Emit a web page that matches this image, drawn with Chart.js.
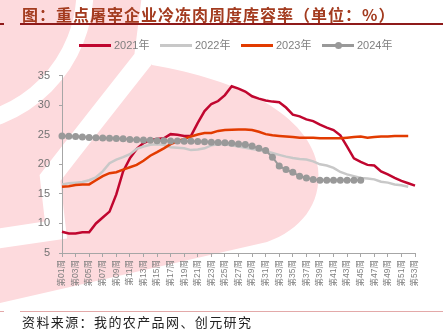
<!DOCTYPE html>
<html>
<head>
<meta charset="utf-8">
<script src="https://cdn.jsdelivr.net/npm/chart.js@4.4.1/dist/chart.umd.min.js"></script>
<style>
  body { margin: 0; width: 443px; height: 333px; position: relative; overflow: hidden; background: #fff; font-family: "Noto Sans CJK SC", sans-serif; }
  #bg { position: absolute; left: 0; top: 0; }
  #title { position: absolute; left: 22px; top: 4px; font-size: 16px; font-weight: bold; color: #A33B1F; letter-spacing: 1px; white-space: nowrap; line-height: 20px; }
  .rule { position: absolute; height: 2px; }
  #legend { position: absolute; left: 0; top: 38px; width: 443px; height: 14px; font-family: "Liberation Sans", "Noto Sans CJK SC", sans-serif; font-size: 11px; color: #808080; }
  .item { position: absolute; top: 0; line-height: 14px; white-space: nowrap; }
  .swatch { position: absolute; top: 6px; width: 32px; height: 3px; }
  .dot { position: absolute; top: 4px; width: 7px; height: 7px; border-radius: 50%; background: #999; }
  #wrap { position: absolute; left: 0; top: 60px; width: 443px; height: 245px; }
  #foot { position: absolute; left: 22px; top: 313px; font-size: 13px; letter-spacing: 1.4px; color: #222; white-space: nowrap; line-height: 18px; }
</style>
</head>
<body>
<canvas id="bg" width="443" height="333"></canvas>
<div id="title">图：重点屠宰企业冷冻肉周度库容率（单位：%）</div>
<div class="rule" style="left:0;top:23px;width:4px;background:#8E1A1A"></div>
<div class="rule" style="left:20px;top:23px;width:423px;background:#8E1A1A"></div>
<div id="legend"></div>
<div id="wrap"><canvas id="myChart"></canvas></div>
<div class="rule" style="left:0;top:311px;width:4px;height:1px;background:#E3A9A9"></div>
<div class="rule" style="left:20px;top:311px;width:423px;height:1px;background:#E3A9A9"></div>
<div id="foot">资料来源：我的农产品网、创元研究</div>

<script>
const weeks = [];
for (let i = 1; i <= 53; i++) {
  weeks.push("第" + String(i).padStart(2, "0") + "周");
}

const years = ["2021年", "2022年", "2023年", "2024年"];

const y2021 = [8.6, 8.3, 8.3, 8.5, 8.5, 10.0, 11.0, 12.0, 14.9, 18.8,
  21.0, 22.6, 23.6, 24.1, 24.3, 24.4, 25.1, 25.0, 24.8, 24.8,
  27.0, 29.0, 30.2, 30.7, 31.7, 33.2, 32.8, 32.3, 31.5, 31.1,
  30.8, 30.6, 30.5, 29.6, 28.4, 28.1, 27.6, 27.3, 26.7, 26.2,
  25.8, 24.9, 23.0, 21.0, 20.4, 19.9, 19.8, 18.8, 18.3, 17.7,
  17.2, 16.8, 16.4];

const y2022 = [16.6, 16.8, 16.9, 17.0, 17.3, 17.8, 18.8, 20.2, 20.8, 21.2,
  21.7, 22.6, 23.0, 23.3, 23.4, 23.3, 22.9, 22.8, 22.7, 22.4,
  22.5, 22.7, 23.2, 23.4, 23.4, 23.2, 23.0, 22.8, 22.6, 22.4,
  22.2, 21.9, 21.6, 21.3, 21.05, 20.9, 20.8, 20.5, 20.0, 19.8,
  19.4, 18.7, 18.3, 18.0, 17.7, 17.6, 17.45, 17.05, 16.9, 16.6,
  16.45, 16.2];

const y2023 = [16.2, 16.3, 16.5, 16.6, 16.6, 17.3, 18.0, 18.5, 18.65, 19.1,
  19.5, 19.9, 20.6, 21.45, 22.05, 22.7, 23.4, 23.9, 24.3, 24.7,
  25.05, 25.3, 25.3, 25.65, 25.8, 25.85, 25.9, 25.9, 25.8, 25.5,
  25.1, 24.9, 24.8, 24.7, 24.6, 24.5, 24.5, 24.5, 24.4, 24.4,
  24.4, 24.4, 24.5, 24.6, 24.7, 24.5, 24.6, 24.7, 24.7, 24.8,
  24.8, 24.8];

const y2024 = [24.8, 24.75, 24.7, 24.6, 24.55, 24.5, 24.45, 24.4, 24.35, 24.3,
  24.2, 24.15, 24.1, 24.05, 24.0, 24.0, 23.95, 23.95, 23.9, 23.9,
  23.85, 23.8, 23.75, 23.7, 23.65, 23.55, 23.45, 23.35, 23.1, 22.7,
  22.35, 21.2, 19.7, 19.1, 18.65, 18.0, 17.7, 17.45, 17.3, 17.3,
  17.3, 17.3, 17.3, 17.3, 17.3];

const colors = ["#C0062F", "#C8C8C8", "#E23B00", "#999999"];

// watermark behind everything
const bg = document.getElementById("bg").getContext("2d");
bg.fillStyle = "#FDDADD";
bg.beginPath();
bg.moveTo(0, 0);
bg.lineTo(150, 0);
bg.lineTo(152, 65);
bg.bezierCurveTo(240, 80, 310, 115, 318, 168);
bg.bezierCurveTo(322, 205, 300, 230, 267, 242);
bg.lineTo(0, 303);
bg.closePath();
bg.fill();

bg.strokeStyle = "#fff";
bg.lineWidth = 17;
bg.beginPath();
bg.arc(-50, -10, 135, 0, Math.PI / 2);
bg.stroke();

bg.lineWidth = 20;
bg.lineJoin = "miter";
bg.beginPath();
bg.moveTo(152, -5);
bg.lineTo(144, 58);
bg.quadraticCurveTo(95, 120, 50, 178);
bg.lineTo(56, 230);
bg.lineTo(-5, 239);
bg.stroke();

// legend
const legendPos = [79, 160, 241, 322];
const legend = document.getElementById("legend");
years.forEach((y, i) => {
  const sw = document.createElement("div");
  sw.className = "swatch";
  sw.style.left = legendPos[i] + "px";
  sw.style.background = colors[i];
  legend.appendChild(sw);
  if (i === 3) {
    const d = document.createElement("div");
    d.className = "dot";
    d.style.left = (legendPos[i] + 12.5) + "px";
    legend.appendChild(d);
  }
  const t = document.createElement("div");
  t.className = "item";
  t.style.left = (legendPos[i] + 35) + "px";
  t.textContent = y;
  legend.appendChild(t);
});

const ctx = document.getElementById("myChart");

new Chart(ctx, {
  type: "line",
  data: {
    labels: weeks,
    datasets: [
      { label: years[0], data: y2021, borderColor: colors[0], borderWidth: 2.5, pointRadius: 0, order: 3 },
      { label: years[1], data: y2022, borderColor: colors[1], borderWidth: 2.5, pointRadius: 0, order: 2 },
      { label: years[2], data: y2023, borderColor: colors[2], borderWidth: 2.5, pointRadius: 0, order: 1 },
      { label: years[3], data: y2024, borderColor: colors[3], borderWidth: 2, pointRadius: 3.5,
        pointBackgroundColor: colors[3], pointBorderWidth: 0, order: 0 }
    ]
  },
  options: {
    responsive: true,
    maintainAspectRatio: false,
    animation: false,
    devicePixelRatio: 1,
    layout: { padding: { left: 0, right: 28, top: 13, bottom: 0 } },
    elements: { line: { tension: 0 } },
    plugins: {
      legend: { display: false },
      tooltip: { enabled: false }
    },
    scales: {
      x: {
        offset: false,
        grid: { display: true, drawOnChartArea: false, drawTicks: true, tickLength: 4, color: "#A6A6A6" },
        border: { display: true, color: "#A6A6A6", width: 1 },
        ticks: {
          autoSkip: false,
          maxRotation: 90,
          minRotation: 90,
          padding: 3,
          color: "#808080",
          font: { family: "'Liberation Sans', 'Noto Sans CJK SC'", size: 8.5 },
          callback: (v, i) => (i % 2 === 0 ? weeks[i] : null)
        },
        afterFit: (scale) => { scale.height = 52; }
      },
      y: {
        min: 5,
        max: 35,
        grid: { display: true, drawOnChartArea: false, drawTicks: true, tickLength: 3, color: "#A6A6A6" },
        border: { display: true, color: "#A6A6A6", width: 1 },
        ticks: {
          stepSize: 5,
          padding: 9,
          color: "#737373",
          font: { family: "'Liberation Sans'", size: 11 }
        },
        afterFit: (scale) => { scale.width = 62; }
      }
    }
  }
});
</script>
</body>
</html>
